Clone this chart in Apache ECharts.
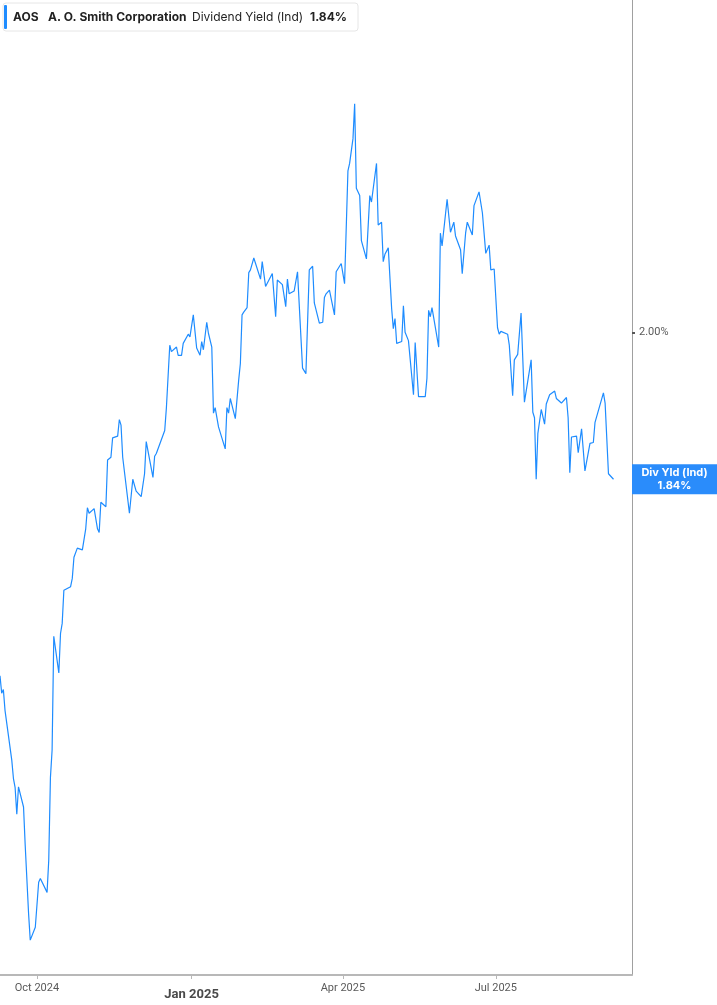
<!DOCTYPE html>
<html>
<head>
<meta charset="utf-8">
<title>AOS Dividend Yield (Ind)</title>
<script src="https://cdn.jsdelivr.net/npm/echarts@6/dist/echarts.min.js"></script>
<style>
    html, body { margin: 0; padding: 0; background: #fff; }
    #chart { width: 717px; height: 1005px; }
</style>
</head>
<body>
<div id="chart"></div>
<script>
// 数据：日期 + 股息率(%)
const dates = [
    '2024-09-09','2024-09-10','2024-09-11','2024-09-12','2024-09-16','2024-09-17','2024-09-18','2024-09-19','2024-09-20','2024-09-23',
    '2024-09-24','2024-09-25','2024-09-26','2024-09-27','2024-09-30','2024-10-02','2024-10-03','2024-10-07','2024-10-08','2024-10-09',
    '2024-10-10','2024-10-11','2024-10-14','2024-10-15','2024-10-16','2024-10-17','2024-10-21','2024-10-22','2024-10-23','2024-10-24',
    '2024-10-25','2024-10-28','2024-10-30','2024-10-31','2024-11-01','2024-11-04','2024-11-06','2024-11-07','2024-11-08','2024-11-11',
    '2024-11-12','2024-11-14','2024-11-15','2024-11-18','2024-11-19','2024-11-20','2024-11-21','2024-11-25','2024-11-27','2024-11-29',
    '2024-12-02','2024-12-04','2024-12-05','2024-12-09','2024-12-10','2024-12-11','2024-12-16','2024-12-17','2024-12-19','2024-12-20',
    '2024-12-23','2024-12-24','2024-12-26','2024-12-27','2024-12-30','2024-12-31','2025-01-02','2025-01-04','2025-01-06','2025-01-07',
    '2025-01-08','2025-01-10','2025-01-11','2025-01-13','2025-01-14','2025-01-15','2025-01-17','2025-01-21','2025-01-22','2025-01-23',
    '2025-01-24','2025-01-27','2025-01-29','2025-01-30','2025-01-31','2025-02-01','2025-02-03','2025-02-04','2025-02-05','2025-02-07',
    '2025-02-11','2025-02-12','2025-02-14','2025-02-18','2025-02-20','2025-02-21','2025-02-24','2025-02-26','2025-02-27','2025-02-28',
    '2025-03-03','2025-03-05','2025-03-08','2025-03-10','2025-03-12','2025-03-14','2025-03-15','2025-03-18','2025-03-20','2025-03-21',
    '2025-03-22','2025-03-24','2025-03-27','2025-03-28','2025-03-31','2025-04-02','2025-04-04','2025-04-05','2025-04-07','2025-04-08',
    '2025-04-09','2025-04-11','2025-04-12','2025-04-15','2025-04-17','2025-04-18','2025-04-21','2025-04-22','2025-04-24','2025-04-25',
    '2025-04-26','2025-04-28','2025-04-30','2025-05-01','2025-05-02','2025-05-03','2025-05-06','2025-05-07','2025-05-08','2025-05-10',
    '2025-05-13','2025-05-14','2025-05-16','2025-05-20','2025-05-21','2025-05-22','2025-05-23','2025-05-24','2025-05-28','2025-05-29',
    '2025-05-30','2025-06-02','2025-06-04','2025-06-05','2025-06-06','2025-06-07','2025-06-10','2025-06-11','2025-06-13','2025-06-14',
    '2025-06-17','2025-06-18','2025-06-21','2025-06-23','2025-06-25','2025-06-26','2025-06-27','2025-06-28','2025-06-30','2025-07-02',
    '2025-07-03','2025-07-04','2025-07-08','2025-07-09','2025-07-11','2025-07-12','2025-07-14','2025-07-16','2025-07-18','2025-07-22',
    '2025-07-23','2025-07-24','2025-07-25','2025-07-26','2025-07-28','2025-07-30','2025-07-31','2025-08-01','2025-08-02','2025-08-05',
    '2025-08-06','2025-08-09','2025-08-12','2025-08-13','2025-08-14','2025-08-15','2025-08-18','2025-08-19','2025-08-21','2025-08-22',
    '2025-08-23','2025-08-26','2025-08-28','2025-08-29','2025-09-03','2025-09-04','2025-09-06','2025-09-09'
];
const yields = [
    1.626,1.607,1.611,1.588,1.534,1.514,1.504,1.475,1.505,1.483,
    1.441,1.440,1.367,1.338,1.352,1.401,1.405,1.390,1.425,1.515,
    1.545,1.669,1.629,1.672,1.683,1.719,1.723,1.732,1.755,1.755,
    1.765,1.763,1.786,1.809,1.803,1.808,1.786,1.782,1.815,1.810,
    1.861,1.864,1.885,1.887,1.905,1.899,1.864,1.803,1.840,1.827,
    1.821,1.846,1.881,1.842,1.865,1.868,1.893,1.918,1.986,1.979,
    1.984,1.975,1.975,1.988,1.998,1.995,2.019,1.983,1.975,1.990,
    1.981,2.011,1.999,1.984,1.912,1.918,1.897,1.873,1.918,1.912,
    1.928,1.906,1.948,1.966,2.019,2.022,2.027,2.065,2.068,2.081,
    2.058,2.077,2.050,2.064,2.017,2.057,2.052,2.028,2.058,2.042,
    2.045,2.066,1.961,1.955,2.068,2.072,2.032,2.010,2.011,2.038,
    2.042,2.046,2.019,2.066,2.075,2.053,2.176,2.184,2.211,2.249,
    2.157,2.149,2.100,2.080,2.149,2.142,2.184,2.117,2.120,2.077,
    2.085,2.092,2.026,2.004,2.015,1.988,1.990,2.029,2.000,1.991,
    1.932,1.989,1.930,1.930,1.950,2.024,2.017,2.027,1.984,2.108,
    2.094,2.145,2.109,2.107,2.120,2.105,2.090,2.064,2.108,2.120,
    2.106,2.138,2.153,2.130,2.086,2.085,2.095,2.068,2.069,2.005,
    1.998,2.001,1.998,1.986,1.931,1.970,1.976,2.021,1.924,1.970,
    1.913,1.907,1.840,1.890,1.916,1.900,1.922,1.923,1.932,1.936,
    1.928,1.923,1.929,1.907,1.847,1.886,1.887,1.869,1.895,1.897,
    1.849,1.879,1.880,1.902,1.934,1.923,1.846,1.840
];

// 坐标轴范围与刻度
const xStart = '2024-09-09';
const xEnd = '2025-09-20';
const xTickDates = ['2024-10-01', '2025-01-01', '2025-04-01', '2025-07-01'];
const xTickLabels = ['Oct 2024', 'Jan 2025', 'Apr 2025', 'Jul 2025'];
const xBoldLabel = 'Jan 2025';
const yTickValues = [2.0];

// 标题信息
const ticker = 'AOS';
const companyName = 'A. O. Smith Corporation';
const metricName = 'Dividend Yield (Ind)';
const shortName = 'Div Yld (Ind)';

const lineColor = '#1e8cff';

function toTime(s) {
    const p = s.split('-').map(Number);
    return new Date(p[0], p[1] - 1, p[2]).getTime();
}

const xTickTimes = xTickDates.map(toTime);
const lastValue = yields[yields.length - 1];
const lastText = lastValue.toFixed(2) + '%';

const chart = echarts.init(document.getElementById('chart'));

const option = {
    animation: false,
    backgroundColor: '#fff',
    grid: {
        left: 0,
        right: 85,
        top: 0,
        bottom: 30
    },
    xAxis: {
        type: 'value',
        min: toTime(xStart),
        max: toTime(xEnd),
        axisLine: {
            show: true,
            lineStyle: { color: '#b8b8b8', width: 2 }
        },
        axisTick: {
            show: true,
            customValues: xTickTimes,
            length: 4,
            lineStyle: { color: '#b8b8b8', width: 1 }
        },
        axisLabel: {
            customValues: xTickTimes,
            margin: 8,
            fontFamily: 'Roboto',
            formatter: function (value) {
                let best = 0;
                xTickTimes.forEach((t, k) => {
                    if (Math.abs(t - value) < Math.abs(xTickTimes[best] - value)) best = k;
                });
                const txt = xTickLabels[best];
                return txt === xBoldLabel ? '{b|' + txt + '}' : '{n|' + txt + '}';
            },
            rich: {
                n: { fontSize: 11, color: '#5a5a5a', fontFamily: 'Roboto' },
                b: { fontSize: 13, color: '#4a4a4a', fontWeight: 'bold', fontFamily: 'Roboto', padding: [5, 0, 0, 0] }
            }
        },
        splitLine: { show: false }
    },
    yAxis: {
        type: 'value',
        position: 'right',
        min: 1.3,
        max: 2.362,
        axisLine: {
            show: true,
            lineStyle: { color: '#a0a0a0', width: 1 }
        },
        axisTick: {
            show: true,
            customValues: yTickValues,
            length: 3,
            lineStyle: { color: '#555', width: 2 }
        },
        axisLabel: {
            customValues: yTickValues,
            margin: 7,
            fontSize: 11,
            color: '#5a5a5a',
            fontFamily: 'Roboto',
            formatter: v => v.toFixed(2) + '%'
        },
        splitLine: { show: false }
    },
    series: [
        {
            name: shortName,
            type: 'line',
            data: dates.map((d, i) => [toTime(d), yields[i]]),
            symbol: 'none',
            smooth: false,
            lineStyle: { width: 1.2, color: lineColor },
            itemStyle: { color: lineColor }
        }
    ]
};

chart.setOption(option);

// 标题框 + 右侧最新值标签（位置由坐标轴换算）
const lastPt = chart.convertToPixel({ seriesIndex: 0 }, [toTime(dates[dates.length - 1]), lastValue]);
const axisX = chart.convertToPixel({ xAxisIndex: 0 }, toTime(xEnd));
const boxW = 717 - axisX;

const headerText = { fontSize: 12, fill: '#222', fontFamily: 'Inter', verticalAlign: 'middle' };

chart.setOption({
    graphic: [
        {
            type: 'rect',
            id: 'headerBox',
            x: 3, y: 3,
            shape: { x: 0, y: 0, width: 355, height: 28, r: 3 },
            style: { fill: '#fff', stroke: '#e6e6e6', lineWidth: 1 },
            z: 10
        },
        {
            type: 'rect',
            id: 'headerBar',
            x: 4, y: 5,
            shape: { x: 0, y: 0, width: 3, height: 24, r: 1 },
            style: { fill: lineColor },
            z: 11
        },
        {
            type: 'text', id: 'hTicker', x: 13, y: 17, z: 11,
            style: Object.assign({ text: ticker, fontWeight: 'bold' }, headerText)
        },
        {
            type: 'text', id: 'hName', x: 48, y: 17, z: 11,
            style: Object.assign({ text: companyName, fontWeight: 'bold' }, headerText)
        },
        {
            type: 'text', id: 'hMetric', x: 192, y: 17, z: 11,
            style: Object.assign({ text: metricName }, headerText)
        },
        {
            type: 'text', id: 'hValue', x: 310, y: 17, z: 11,
            style: Object.assign({ text: lastText, fontWeight: 'bold' }, headerText)
        },
        {
            type: 'rect',
            id: 'lastBox',
            x: axisX, y: lastPt[1] - 15,
            shape: { x: 0, y: 0, width: boxW, height: 30 },
            style: { fill: '#2a8cfb' },
            z: 10
        },
        {
            type: 'text', id: 'lastName', x: axisX + boxW / 2, y: lastPt[1] - 7, z: 11,
            style: { text: shortName, fontSize: 11, fontWeight: 'bold', fill: '#fff', fontFamily: 'Inter', align: 'center', verticalAlign: 'middle' }
        },
        {
            type: 'text', id: 'lastVal', x: axisX + boxW / 2, y: lastPt[1] + 6, z: 11,
            style: { text: lastText, fontSize: 11, fontWeight: 'bold', fill: '#fff', fontFamily: 'Inter', align: 'center', verticalAlign: 'middle' }
        }
    ]
});

window.addEventListener('resize', function () {
    chart.resize();
});
</script>
</body>
</html>
